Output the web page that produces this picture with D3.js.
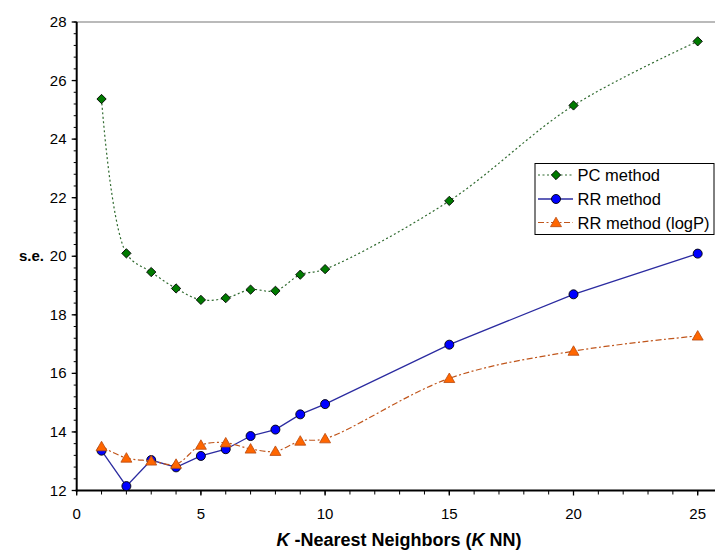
<!DOCTYPE html>
<html>
<head>
<meta charset="utf-8">
<script src="https://cdn.jsdelivr.net/npm/d3@7"></script>
<style>
  body { margin: 0; background: #fff; }
  svg { display: block; font-family: "Liberation Sans", Arial, sans-serif; }
</style>
</head>
<body>
<div id="chart"></div>
<script>
// data
var knn = [1, 2, 3, 4, 5, 6, 7, 8, 9, 10, 15, 20, 25];
var pcMethod = [25.37, 20.10, 19.46, 18.90, 18.51, 18.57, 18.86, 18.82, 19.37, 19.56, 21.89, 25.15, 27.34];
var rrMethod = [13.36, 12.15, 13.04, 12.79, 13.18, 13.41, 13.86, 14.08, 14.60, 14.95, 16.98, 18.70, 20.09];
var rrLogP = [13.50, 13.11, 13.01, 12.90, 13.55, 13.63, 13.42, 13.34, 13.69, 13.77, 15.83, 16.76, 17.28];
var xTicks = [0, 5, 10, 15, 20, 25];
var yTicks = [12, 14, 16, 18, 20, 22, 24, 26, 28];
var seriesNames = ["PC method", "RR method", "RR method (logP)"];

var width = 715, height = 553;
// plot area edges (window.top is reserved, so use other names)
var plotL = 76.7, plotR = 715, plotT = 22, plotB = 490.5;

var svg = d3.select('#chart').append('svg')
  .attr('width', width)
  .attr('height', height);

var x = d3.scaleLinear().domain([0, 25]).range([plotL, 697.7]);
var y = d3.scaleLinear().domain([12, 28]).range([plotB, plotT]);

// top border of plot area
svg.append('line')
  .attr('x1', plotL).attr('x2', plotR)
  .attr('y1', plotT).attr('y2', plotT)
  .style('stroke', '#777').style('stroke-width', 1.2);

// minor ticks
var yMinor = d3.range(12, 28.01, 0.4);
svg.selectAll('.ymin').data(yMinor).enter().append('line')
  .attr('x1', plotL - 3).attr('x2', plotL)
  .attr('y1', function(d) { return y(d); })
  .attr('y2', function(d) { return y(d); })
  .style('stroke', '#000').style('stroke-width', 1);

var xMinor = d3.range(0, 26, 1);
svg.selectAll('.xmin').data(xMinor).enter().append('line')
  .attr('x1', function(d) { return x(d); })
  .attr('x2', function(d) { return x(d); })
  .attr('y1', plotB).attr('y2', plotB + 4)
  .style('stroke', '#000').style('stroke-width', 1);

// major ticks
svg.selectAll('.ymaj').data(yTicks).enter().append('line')
  .attr('x1', plotL - 5).attr('x2', plotL)
  .attr('y1', function(d) { return y(d); })
  .attr('y2', function(d) { return y(d); })
  .style('stroke', '#000').style('stroke-width', 1.3);

svg.selectAll('.xmaj').data(xTicks).enter().append('line')
  .attr('x1', function(d) { return x(d); })
  .attr('x2', function(d) { return x(d); })
  .attr('y1', plotB).attr('y2', plotB + 5)
  .style('stroke', '#000').style('stroke-width', 1.3);

// axis lines
svg.append('line')
  .attr('x1', plotL).attr('x2', plotL)
  .attr('y1', plotT).attr('y2', plotB + 1)
  .style('stroke', '#000').style('stroke-width', 2);
svg.append('line')
  .attr('x1', plotL - 1).attr('x2', plotR)
  .attr('y1', plotB).attr('y2', plotB)
  .style('stroke', '#000').style('stroke-width', 2);

// tick labels
svg.selectAll('.ylab').data(yTicks).enter().append('text')
  .attr('x', 66.5)
  .attr('y', function(d) { return y(d) + 5; })
  .attr('text-anchor', 'end')
  .style('font-size', '15px')
  .text(function(d) { return d; });

svg.selectAll('.xlab').data(xTicks).enter().append('text')
  .attr('x', function(d) { return x(d); })
  .attr('y', 519)
  .attr('text-anchor', 'middle')
  .style('font-size', '15px')
  .text(function(d) { return d; });

// axis titles
svg.append('text')
  .attr('x', 44).attr('y', 261)
  .attr('text-anchor', 'end')
  .style('font-size', '15px').style('font-weight', 'bold')
  .text('s.e.');

var xt = svg.append('text')
  .attr('x', 399).attr('y', 546)
  .attr('text-anchor', 'middle')
  .style('font-size', '18px').style('font-weight', 'bold');
xt.append('tspan').style('font-style', 'italic').text('K');
xt.append('tspan').text(' -Nearest Neighbors (');
xt.append('tspan').style('font-style', 'italic').text('K');
xt.append('tspan').text(' NN)');

// series
var smoothLine = d3.line()
  .x(function(d, i) { return x(knn[i]); })
  .y(function(d) { return y(d); })
  .curve(d3.curveCatmullRom.alpha(0.5));

var rrLine = d3.line()
  .x(function(d, i) { return x(knn[i]); })
  .y(function(d) { return y(d); });

var diamond = d3.symbol().type(d3.symbolDiamond2).size(55);
var triangle = d3.symbol().type(d3.symbolTriangle).size(52);

// PC method
svg.append('path')
  .attr('d', smoothLine(pcMethod))
  .style('fill', 'none').style('stroke', '#2f6a2f')
  .style('stroke-width', 1.2).style('stroke-dasharray', '2,2.5');
svg.selectAll('.pc').data(pcMethod).enter().append('path')
  .attr('d', diamond)
  .attr('transform', function(d, i) { return 'translate(' + x(knn[i]) + ',' + y(d) + ')'; })
  .style('fill', '#007a00').style('stroke', '#000').style('stroke-width', 0.9);

// RR method
svg.append('path')
  .attr('d', rrLine(rrMethod))
  .style('fill', 'none').style('stroke', '#2b2ba0').style('stroke-width', 1.3);
svg.selectAll('.rr').data(rrMethod).enter().append('circle')
  .attr('cx', function(d, i) { return x(knn[i]); })
  .attr('cy', function(d) { return y(d); })
  .attr('r', 4.5)
  .style('fill', '#0000ff').style('stroke', '#000').style('stroke-width', 0.9);

// RR method (logP)
svg.append('path')
  .attr('d', smoothLine(rrLogP))
  .style('fill', 'none').style('stroke', '#c0561c')
  .style('stroke-width', 1.2).style('stroke-dasharray', '6,2.5,2,2.5');
svg.selectAll('.lp').data(rrLogP).enter().append('path')
  .attr('d', triangle)
  .attr('transform', function(d, i) { return 'translate(' + x(knn[i]) + ',' + (y(d) + 1) + ')'; })
  .style('fill', '#ff6600').style('stroke', '#b84a10').style('stroke-width', 0.8);

// legend
var lg = svg.append('g').attr('transform', 'translate(535,163.5)');
lg.append('rect')
  .attr('width', 179).attr('height', 71)
  .style('fill', '#fff').style('stroke', '#000').style('stroke-width', 1);

var rowY = [11.5, 35.5, 59];
lg.append('line').attr('x1', 3).attr('x2', 38).attr('y1', rowY[0]).attr('y2', rowY[0])
  .style('stroke', '#2f6a2f').style('stroke-width', 1.2).style('stroke-dasharray', '2,2.5');
lg.append('path').attr('d', diamond).attr('transform', 'translate(21,' + rowY[0] + ')')
  .style('fill', '#007a00').style('stroke', '#000').style('stroke-width', 0.9);

lg.append('line').attr('x1', 3).attr('x2', 38).attr('y1', rowY[1]).attr('y2', rowY[1])
  .style('stroke', '#2b2ba0').style('stroke-width', 1.3);
lg.append('circle').attr('cx', 21).attr('cy', rowY[1]).attr('r', 4.5)
  .style('fill', '#0000ff').style('stroke', '#000').style('stroke-width', 0.9);

lg.append('line').attr('x1', 3).attr('x2', 38).attr('y1', rowY[2]).attr('y2', rowY[2])
  .style('stroke', '#c0561c').style('stroke-width', 1.2).style('stroke-dasharray', '6,2.5,2,2.5');
lg.append('path').attr('d', triangle).attr('transform', 'translate(21,' + (rowY[2] + 1) + ')')
  .style('fill', '#ff6600').style('stroke', '#b84a10').style('stroke-width', 0.8);

lg.selectAll('.lt').data(seriesNames).enter().append('text')
  .attr('x', 42.5)
  .attr('y', function(d, i) { return rowY[i] + 6; })
  .style('font-size', '16.5px')
  .text(function(d) { return d; });
</script>
</body>
</html>
